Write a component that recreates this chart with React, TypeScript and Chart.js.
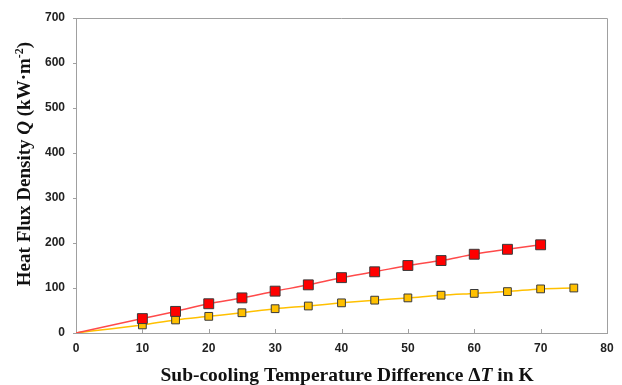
import React, { useEffect, useRef } from "react";
import { Chart, registerables } from "chart.js";

Chart.register(...registerables);

// Data
const redTemp = [0, 10, 15, 20, 25, 30, 35, 40, 45, 50, 55, 60, 65, 70];
const redFlux = [0, 32, 48, 65, 78, 93, 107, 123, 136, 150, 161, 175, 186, 196];
const yellowTemp = [0, 10, 15, 20, 25, 30, 35, 40, 45, 50, 55, 60, 65, 70, 75];
const yellowFlux = [0, 18, 29, 37, 45, 54, 60, 67, 73, 78, 84, 88, 92, 98, 100];

const xMin = 0, xMax = 80, xStep = 10;
const yMin = 0, yMax = 700, yStep = 100;

const yTitleParts: [string, string][] = [
  ["Heat Flux Density ", "n"],
  ["Q", "i"],
  [" (kW·m", "n"],
  ["-2", "s"],
  [")", "n"],
];
const xTitleParts: [string, string][] = [
  ["Sub-cooling Temperature Difference Δ", "n"],
  ["T", "i"],
  [" in K", "n"],
];

const FRAME = "#a0a0a0";

function fontFor(kind: string, size: number) {
  const fam = '"Liberation Serif", "Times New Roman", serif';
  if (kind === "i") return `italic bold ${size}px ${fam}`;
  if (kind === "s") return `bold ${Math.round(size * 0.62)}px ${fam}`;
  return `bold ${size}px ${fam}`;
}

function drawParts(ctx: CanvasRenderingContext2D, parts: [string, string][], size: number) {
  let total = 0;
  for (const [t, k] of parts) {
    ctx.font = fontFor(k, size);
    total += ctx.measureText(t).width;
  }
  let x = -total / 2;
  for (const [t, k] of parts) {
    ctx.font = fontFor(k, size);
    const dy = k === "s" ? -size * 0.38 : 0;
    ctx.fillText(t, x, dy);
    x += ctx.measureText(t).width;
  }
}

const framePlugin = {
  id: "framePlugin",
  afterDraw(chart: any) {
    const { ctx, chartArea } = chart;
    const { left, right, top, bottom } = chartArea;
    ctx.save();
    ctx.strokeStyle = FRAME;
    ctx.lineWidth = 1;
    ctx.beginPath();
    ctx.moveTo(left, top + 0.5);
    ctx.lineTo(right + 0.5, top + 0.5);
    ctx.lineTo(right + 0.5, bottom);
    ctx.stroke();
    // inward x ticks
    const xs = chart.scales.x;
    ctx.beginPath();
    for (let v = xMin + xStep; v < xMax; v += xStep) {
      const px = Math.round(xs.getPixelForValue(v)) + 0.5;
      ctx.moveTo(px, bottom);
      ctx.lineTo(px, bottom - 4);
    }
    ctx.stroke();

    // titles
    ctx.fillStyle = "#111";
    ctx.textBaseline = "alphabetic";
    ctx.textAlign = "left";
    ctx.save();
    ctx.translate(30, 164);
    ctx.rotate(-Math.PI / 2);
    drawParts(ctx, yTitleParts, 19);
    ctx.restore();
    ctx.save();
    ctx.translate(347, 381);
    drawParts(ctx, xTitleParts, 19.5);
    ctx.restore();
    ctx.restore();
  },
};

export default function App() {
  const ref = useRef<HTMLCanvasElement>(null);
  useEffect(() => {
    if (!ref.current) return;
    const chart = new Chart(ref.current, {
      type: "line",
      data: {
        datasets: [
          {
            label: "red",
            data: redTemp.map((t, i) => ({ x: t, y: redFlux[i] })),
            borderColor: "#ff4a4a",
            borderWidth: 1.5,
            backgroundColor: "#ff0000",
            pointBackgroundColor: "#ff0000",
            pointBorderColor: "#3a3a3a",
            pointBorderWidth: 1,
            pointStyle: "rect",
            pointRadius: redTemp.map((t) => (t === 0 ? 0 : 7)),
            cubicInterpolationMode: "monotone",
          },
          {
            label: "yellow",
            data: yellowTemp.map((t, i) => ({ x: t, y: yellowFlux[i] })),
            borderColor: "#ffc000",
            borderWidth: 1.5,
            backgroundColor: "#ffc000",
            pointBackgroundColor: "#ffc000",
            pointBorderColor: "#3a3a3a",
            pointBorderWidth: 1,
            pointStyle: "rect",
            pointRadius: yellowTemp.map((t) => (t === 0 ? 0 : 5.5)),
            cubicInterpolationMode: "monotone",
          },
        ],
      },
      options: {
        animation: false,
        responsive: false,
        layout: { padding: { left: 0, right: 15, top: 18, bottom: 0 } },
        plugins: { legend: { display: false }, tooltip: { enabled: false } },
        scales: {
          x: {
            type: "linear",
            min: xMin,
            max: xMax,
            afterFit: (s: any) => { s.height = 52; },
            grid: { display: true, drawOnChartArea: false, drawTicks: false, color: FRAME },
            border: { display: true, color: FRAME, width: 1 },
            ticks: {
              stepSize: xStep,
              padding: 8,
              color: "#222",
              font: { family: '"Liberation Sans", Arial, sans-serif', size: 12, weight: "bold" },
            },
          },
          y: {
            type: "linear",
            min: yMin,
            max: yMax,
            afterFit: (s: any) => { s.width = 76; },
            grid: { display: true, drawOnChartArea: false, drawTicks: true, tickLength: 3, color: FRAME },
            border: { display: true, color: FRAME, width: 1 },
            ticks: {
              stepSize: yStep,
              padding: 8,
              color: "#222",
              font: { family: '"Liberation Sans", Arial, sans-serif', size: 12, weight: "bold" },
            },
          },
        },
      } as any,
      plugins: [framePlugin],
    });
    return () => chart.destroy();
  }, []);
  return (
    <div style={{ position: "absolute", left: 0, top: 0, width: 622, height: 385, background: "#fff" }}>
      <canvas ref={ref} width={622} height={385} />
    </div>
  );
}
